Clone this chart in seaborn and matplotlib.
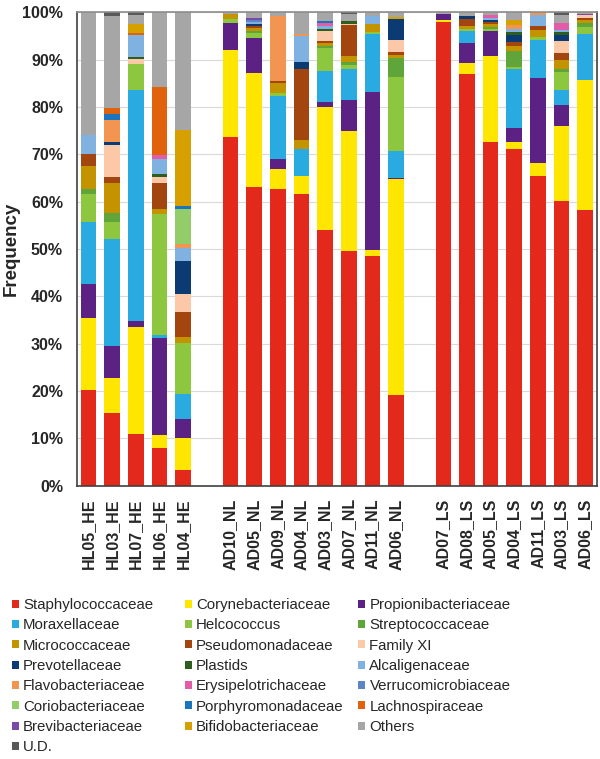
import matplotlib
matplotlib.use('Agg')
import matplotlib.pyplot as plt
from matplotlib.patches import Patch
import numpy as np
import seaborn as sns

# samples in plotting order (three groups, blank slot between groups)
hl_samples = ['HL05_HE', 'HL03_HE', 'HL07_HE', 'HL06_HE', 'HL04_HE']
nl_samples = ['AD10_NL', 'AD05_NL', 'AD09_NL', 'AD04_NL', 'AD03_NL', 'AD07_NL', 'AD11_NL', 'AD06_NL']
ls_samples = ['AD07_LS', 'AD08_LS', 'AD05_LS', 'AD04_LS', 'AD11_LS', 'AD03_LS', 'AD06_LS']

# relative abundance (%) per family, one value per sample (HL..., NL..., LS...)
staphylococcaceae = [20.2, 15.3, 11.0, 8.0, 3.4, 73.6, 63.1, 62.7, 61.7, 54.1, 49.6, 48.5, 19.2, 97.9, 86.9, 72.6, 71.1, 65.4, 60.2, 58.2]
corynebacteriaceae = [15.3, 7.5, 22.6, 2.8, 6.7, 18.5, 24.0, 4.1, 3.7, 25.9, 25.3, 1.3, 45.5, 0.4, 2.3, 18.1, 1.5, 2.8, 15.8, 27.5]
propionibacteriaceae = [7.0, 6.7, 1.1, 20.3, 4.0, 5.6, 7.5, 2.1, 0, 1.0, 6.6, 33.3, 0.3, 1.4, 4.3, 5.3, 3.0, 17.8, 4.3, 0]
moraxellaceae = [13.2, 22.5, 48.9, 0.7, 5.2, 0, 0, 13.3, 5.6, 6.5, 6.6, 12.3, 5.6, 0, 2.5, 0, 12.5, 8.2, 3.3, 9.6]
helcococcus = [6.0, 3.7, 5.5, 25.6, 10.9, 0.9, 0.9, 0.8, 0, 4.9, 0.7, 0.4, 15.7, 0, 0.5, 0.5, 0.4, 0.5, 3.8, 1.5]
streptococcaceae = [0.9, 1.8, 0, 0, 0, 0, 0.5, 0, 0, 0.4, 0.6, 0, 4.1, 0, 0, 0.3, 3.3, 0, 0.7, 0.9]
micrococcaceae = [4.9, 6.4, 0, 1.0, 1.2, 1.0, 0.6, 2.0, 2.1, 0.7, 1.3, 1.7, 0.6, 0, 0.5, 0.6, 1.0, 1.6, 1.7, 0.6]
pseudomonadaceae = [2.5, 1.2, 0, 5.5, 5.3, 0, 0.5, 0.5, 15.0, 0.5, 6.5, 0, 0.6, 0, 1.6, 0.5, 0.9, 0.7, 1.6, 0.5]
family_xi = [0, 6.8, 1.1, 1.3, 3.8, 0, 0, 0, 0, 2.1, 0.4, 0, 2.6, 0, 0, 0, 0, 0, 2.6, 0.5]
prevotellaceae = [0, 0.6, 0, 0, 7.0, 0, 0.3, 0, 1.4, 0, 0, 0, 4.4, 0, 0.5, 0.4, 1.4, 0, 1.2, 0]
plastids = [0, 0, 0.4, 0.7, 0, 0, 0, 0, 0, 0.4, 0.5, 0, 0, 0, 0, 0, 0.8, 0, 0.6, 0]
alcaligenaceae = [4.1, 0, 4.5, 3.0, 2.8, 0, 0.6, 0, 5.4, 0.5, 0, 1.6, 0, 0, 0, 0.5, 0.6, 2.3, 0.5, 0]
flavobacteriaceae = [0, 4.8, 0, 0, 0.7, 0, 0, 13.6, 0.5, 0, 0, 0, 0, 0, 0, 0, 0.8, 0.5, 0, 0]
erysipelotrichaceae = [0, 0, 0, 1.0, 0, 0, 0, 0, 0, 0.7, 0, 0, 0, 0, 0, 0.5, 0, 0, 1.4, 0]
verrucomicrobiaceae = [0, 0, 0, 0, 0, 0, 0.4, 0, 0, 0, 0, 0, 0, 0, 0, 0, 0, 0, 0, 0]
coriobacteriaceae = [0, 0, 0, 0, 7.5, 0, 0, 0, 0, 0, 0, 0, 0, 0, 0, 0, 0, 0, 0, 0]
porphyromonadaceae = [0, 1.1, 0, 0, 0.6, 0, 0, 0, 0, 0.4, 0, 0, 0, 0, 0, 0, 0, 0, 0, 0]
lachnospiraceae = [0, 1.4, 0.6, 14.4, 0, 0, 0, 0, 0, 0, 0, 0, 0, 0, 0, 0, 0, 0, 0, 0]
brevibacteriaceae = [0, 0, 0, 0, 0, 0, 0.4, 0, 0, 0, 0, 0, 0, 0, 0, 0, 0, 0, 0, 0.3]
bifidobacteriaceae = [0, 0, 1.8, 0, 16.0, 0, 0, 0, 0, 0, 0, 0, 0.4, 0, 0, 0, 1.0, 0, 0, 0]
others = [25.9, 19.3, 1.8, 15.7, 24.9, 0.4, 1.2, 0.9, 4.6, 1.9, 1.5, 0.9, 1.0, 0.3, 0.9, 0.7, 1.7, 0.2, 1.8, 0.4]
unidentified = [0, 0.9, 0.7, 0, 0, 0, 0, 0, 0, 0, 0.4, 0, 0, 0, 0, 0, 0, 0, 0.5, 0]

families = ['Staphylococcaceae', 'Corynebacteriaceae', 'Propionibacteriaceae',
            'Moraxellaceae', 'Helcococcus', 'Streptococcaceae',
            'Micrococcaceae', 'Pseudomonadaceae', 'Family XI',
            'Prevotellaceae', 'Plastids', 'Alcaligenaceae',
            'Flavobacteriaceae', 'Erysipelotrichaceae', 'Verrucomicrobiaceae',
            'Coriobacteriaceae', 'Porphyromonadaceae', 'Lachnospiraceae',
            'Brevibacteriaceae', 'Bifidobacteriaceae', 'Others', 'U.D.']
values = [staphylococcaceae, corynebacteriaceae, propionibacteriaceae,
          moraxellaceae, helcococcus, streptococcaceae,
          micrococcaceae, pseudomonadaceae, family_xi,
          prevotellaceae, plastids, alcaligenaceae,
          flavobacteriaceae, erysipelotrichaceae, verrucomicrobiaceae,
          coriobacteriaceae, porphyromonadaceae, lachnospiraceae,
          brevibacteriaceae, bifidobacteriaceae, others, unidentified]
colors = ['#e2291b', '#ffe600', '#5b2283',
          '#29abe2', '#8dc63f', '#5fa53a',
          '#c49300', '#a3450f', '#fbc8a8',
          '#0c3a73', '#2e5e1e', '#7fb2e0',
          '#f29550', '#e25ca8', '#5b85c4',
          '#93cd6a', '#1b75bc', '#e0620d',
          '#7a4aa8', '#d6a000', '#a6a6a6', '#595959']

samples = hl_samples + nl_samples + ls_samples
order = hl_samples + [' '] + nl_samples + ['  '] + ls_samples

sns.set_style('white')
plt.rcParams['font.family'] = ['Liberation Sans', 'DejaVu Sans']

fig = plt.figure(figsize=(6, 7.59), dpi=100)
ax = fig.add_axes([0.128, 0.360, 0.867, 0.624])

# stacked bars: draw cumulative tops from the top layer down
tops = np.cumsum(np.array(values), axis=0)
for i in reversed(range(len(families))):
    sns.barplot(x=samples, y=tops[i], order=order, color=colors[i],
                saturation=1, width=0.66, errorbar=None, ax=ax,
                linewidth=0, edgecolor='none')

ax.set_ylim(0, 100)
ax.set_xlim(-0.5, len(order) - 0.5)
ax.set_yticks(range(0, 101, 10))
ax.set_yticklabels([f'{v}%' for v in range(0, 101, 10)])
ax.yaxis.grid(True, color='#d9d9d9', linewidth=0.8)
ax.set_axisbelow(True)
ax.tick_params(axis='both', length=0, labelsize=11.5)
ax.tick_params(axis='y', pad=10)
ax.tick_params(axis='x', pad=9)
for lbl in ax.get_xticklabels():
    lbl.set_rotation(90)
    lbl.set_fontweight('bold')
for lbl in ax.get_yticklabels():
    lbl.set_fontweight('bold')
ax.set_xlabel('')
ax.set_ylabel('Frequency', fontsize=13.5, fontweight='bold')
ax.yaxis.set_label_coords(-0.11, 0.5)
for side in ['left', 'right', 'bottom']:
    ax.spines[side].set_color('#404040')
    ax.spines[side].set_linewidth(1.2)
ax.spines['top'].set_color('#8c8c8c')
ax.spines['top'].set_linewidth(1.2)

# legend: three columns filled row-wise
handles = [Patch(facecolor=c, edgecolor='none') for c in colors]
col_x = [0.020, 0.308, 0.597]
for c in range(3):
    fig.legend(handles[c::3], families[c::3], loc='upper left',
               bbox_to_anchor=(col_x[c], 0.212), frameon=False,
               fontsize=10.8, handlelength=0.45, handleheight=0.45,
               handletextpad=0.3, labelspacing=0.42, borderpad=0,
               borderaxespad=0)

fig.savefig('out.png', dpi=100)
